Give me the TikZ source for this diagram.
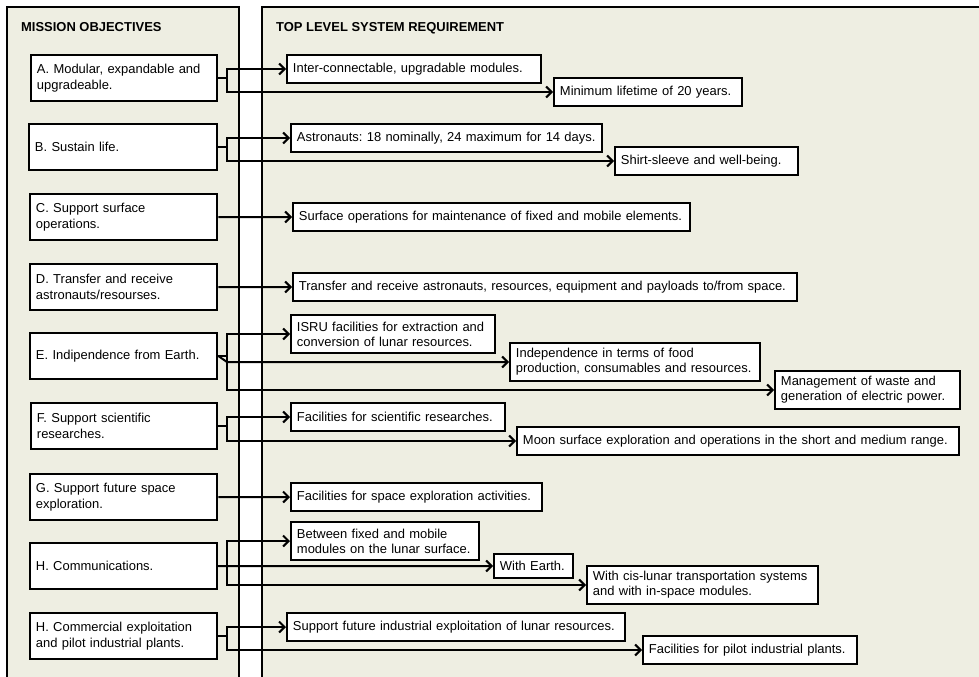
\documentclass[tikz,border=0pt]{standalone}
\usepackage{fontspec}
\setmainfont{Liberation Sans}
\usetikzlibrary{arrows.meta}
\definecolor{panelbg}{RGB}{238,238,226}
\frenchspacing
\begin{document}
\begin{tikzpicture}[x=1bp,y=-1bp,
  font=\fontsize{13}{15.5}\selectfont,
  panelline/.style={line width=2bp},
  objbox/.style={draw=black, line width=2bp, fill=white, anchor=north west,
    inner xsep=6pt, inner ysep=0pt, align=left, font=\fontsize{13}{16}\selectfont},
  reqbox/.style={draw=black, line width=2bp, fill=white, anchor=north west,
    inner xsep=6pt, inner ysep=0pt, align=left, font=\fontsize{13}{15}\selectfont},
  title/.style={anchor=base west, inner sep=0pt, font=\fontsize{13}{15}\selectfont\bfseries},
  arr/.style={line width=2bp, -{Straight Barb[length=5.5pt,width=11pt]}}]
\useasboundingbox (0,0) rectangle (979,677);
% panels
\fill[panelbg] (7,7) rectangle (239,677);
\draw[panelline] (7,677) -- (7,7) -- (239,7) -- (239,677);
\fill[panelbg] (262,7) rectangle (979,677);
\draw[panelline] (262,677) -- (262,7) -- (979,7);
\node[title] (t1) at (21,32) {MISSION OBJECTIVES};
\node[title] (t2) at (276,32) {TOP LEVEL SYSTEM REQUIREMENT};
% objectives
\node[objbox, text width=175pt, minimum height=46bp] (A) at (30,54) {\mbox{A. Modular, expandable and}\\\mbox{upgradeable.}};
\node[objbox, text width=177pt, minimum height=46bp] (B) at (28,123) {\mbox{B. Sustain life.}};
\node[objbox, text width=176pt, minimum height=46bp] (C) at (29,193) {\mbox{C. Support surface}\\\mbox{operations.}};
\node[objbox, text width=176pt, minimum height=46bp] (D) at (29,263) {\mbox{D. Transfer and receive}\\\mbox{astronauts/resourses.}};
\node[objbox, text width=176pt, minimum height=46bp] (E) at (29,332) {\mbox{E. Indipendence from Earth.}};
\node[objbox, text width=175pt, minimum height=46bp] (F) at (30,402) {\mbox{F. Support scientific}\\\mbox{researches.}};
\node[objbox, text width=176pt, minimum height=46bp] (G) at (29,473) {\mbox{G. Support future space}\\\mbox{exploration.}};
\node[objbox, text width=176pt, minimum height=46bp] (H) at (29,542) {\mbox{H. Communications.}};
\node[objbox, text width=176pt, minimum height=46bp] (I) at (29,612) {\mbox{H. Commercial exploitation}\\\mbox{and pilot industrial plants.}};
% requirements
\node[reqbox, text width=243pt, minimum height=28bp] (r1) at (286,54) {\mbox{Inter-connectable, upgradable modules.}};
\node[reqbox, text width=177pt, minimum height=28bp] (r2) at (553,77) {\mbox{Minimum lifetime of 20 years.}};
\node[reqbox, text width=300pt, minimum height=28bp] (r3) at (290,123) {\mbox{Astronauts: 18 nominally, 24 maximum for 14 days.}};
\node[reqbox, text width=172pt, minimum height=28bp] (r4) at (614,146) {\mbox{Shirt-sleeve and well-being.}};
\node[reqbox, text width=386pt, minimum height=28bp] (r5) at (292,202) {\mbox{Surface operations for maintenance of fixed and mobile elements.}};
\node[reqbox, text width=494pt, minimum height=28bp] (r6) at (292,272) {\mbox{Transfer and receive astronauts, resources, equipment and payloads to/from space.}};
\node[reqbox, text width=193pt, minimum height=38bp] (r7) at (290,314) {\mbox{ISRU facilities for extraction and}\\\mbox{conversion of lunar resources.}};
\node[reqbox, text width=239pt, minimum height=38bp] (r8) at (509,342) {\mbox{Independence in terms of food}\\\mbox{production, consumables and resources.}};
\node[reqbox, text width=174pt, minimum height=38bp] (r9) at (774,370) {\mbox{Management of waste and}\\\mbox{generation of electric power.}};
\node[reqbox, text width=203pt, minimum height=28bp] (r10) at (290,402) {\mbox{Facilities for scientific researches.}};
\node[reqbox, text width=432pt, minimum height=28bp] (r11) at (516,426) {\mbox{Moon surface exploration and operations in the short and medium range.}};
\node[reqbox, text width=240pt, minimum height=28bp] (r12) at (290,482) {\mbox{Facilities for space exploration activities.}};
\node[reqbox, text width=177pt, minimum height=38bp] (r13) at (290,521) {\mbox{Between fixed and mobile}\\\mbox{modules on the lunar surface.}};
\node[reqbox, text width=67pt, minimum height=24bp] (r14) at (493,553) {\mbox{With Earth.}};
\node[reqbox, text width=220pt, minimum height=38bp] (r15) at (586,565) {\mbox{With cis-lunar transportation systems}\\\mbox{and with in-space modules.}};
\node[reqbox, text width=327pt, minimum height=28bp] (r16) at (286,612) {\mbox{Support future industrial exploitation of lunar resources.}};
\node[reqbox, text width=203pt, minimum height=28bp] (r17) at (642,635) {\mbox{Facilities for pilot industrial plants.}};
% connectors
\coordinate (jx) at (227,0);
\draw[arr] (A.east) -- (A.east -| jx) |- (r1.west);
\draw[arr] (A.east) -- (A.east -| jx) |- (r2.west);
\draw[arr] (B.east) -- (B.east -| jx) |- (r3.west);
\draw[arr] (B.east) -- (B.east -| jx) |- (r4.west);
\draw[arr] (C.east) -- (r5.west);
\draw[arr] (D.east) -- (r6.west);
\draw[arr] (E.east) -- (E.east -| jx) |- (r7.west);
\draw[arr] (E.east) -- (r8.west -| jx) -- (r8.west);
\draw[arr] (E.east) -- (E.east -| jx) |- (r9.west);
\draw[arr] (F.east) -- (F.east -| jx) |- (r10.west);
\draw[arr] (F.east) -- (F.east -| jx) |- (r11.west);
\draw[arr] (G.east) -- (r12.west);
\draw[arr] (H.east) -- (H.east -| jx) |- (r13.west);
\draw[arr] (H.east) -- (r14.west);
\draw[arr] (H.east) -- (H.east -| jx) |- (r15.west);
\draw[arr] (I.east) -- (I.east -| jx) |- (r16.west);
\draw[arr] (I.east) -- (I.east -| jx) |- (r17.west);
\end{tikzpicture}
\end{document}
